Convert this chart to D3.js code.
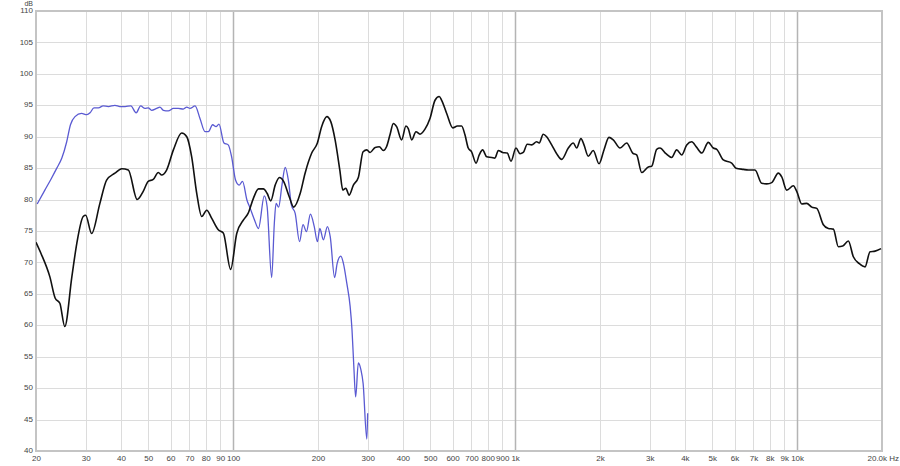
<!DOCTYPE html>
<html>
<head>
<meta charset="utf-8">
<script src="https://cdn.jsdelivr.net/npm/d3@7"></script>
<style>
  body { margin: 0; background: #fff; }
  svg { display: block; }
  .tick text { font-family: Arial, "Liberation Sans", sans-serif; font-size: 8px; fill: #444; }
</style>
</head>
<body>
<svg id="chart" width="900" height="466"></svg>
<script>
// frequency ticks and dB ticks
var xTicks = [20, 30, 40, 50, 60, 70, 80, 90, 100, 200, 300, 400, 500, 600, 700, 800, 900,
  1000, 2000, 3000, 4000, 5000, 6000, 7000, 8000, 9000, 10000, 20000];
var xTickLabels = ['20', '30', '40', '50', '60', '70', '80', '90', '100', '200', '300', '400', '500',
  '600', '700', '800', '900', '1k', '2k', '3k', '4k', '5k', '6k', '7k', '8k', '9k', '10k', '20.0k Hz'];
var majorFreqs = [100, 1000, 10000];
var yTicks = [40, 45, 50, 55, 60, 65, 70, 75, 80, 85, 90, 95, 100, 105, 110];

// black curve (full range)
var blackFreq = [20, 20.8, 22.4, 23.4, 24.3, 25.3, 26.8, 27.9, 29.4, 30, 31.5, 33.7, 35.6, 38.1, 40.3,
  42.5, 45.7, 48, 50, 52.1, 54.3, 55.8, 58.1, 61.4, 65.7, 68.5, 71.3, 74.3, 77.4, 80.6, 84, 88.6, 92.3,
  98, 103, 109, 113, 118, 123, 128, 132, 136, 141, 146, 151, 158, 164, 173, 180, 190, 199, 206, 215,
  222, 230, 239, 245, 251, 258, 267, 278, 289, 298, 306, 319, 330, 341, 350, 360, 370, 380, 396, 410,
  418, 430, 445, 460, 479, 499, 520, 538, 549, 572, 601, 624, 646, 664, 682, 701, 727, 746, 767, 793,
  826, 848, 872, 903, 938, 967, 1007, 1041, 1069, 1104, 1145, 1192, 1218, 1258, 1294, 1348, 1404, 1463,
  1544, 1608, 1653, 1712, 1755, 1817, 1893, 1984, 2066, 2152, 2229, 2355, 2487, 2612, 2698, 2811, 2967,
  3050, 3177, 3264, 3428, 3591, 3741, 3897, 4060, 4229, 4405, 4589, 4843, 5045, 5187, 5475, 5862, 6072,
  6445, 6714, 7091, 7490, 7802, 8128, 8578, 8820, 9188, 9697, 9970, 10386, 10818, 11270, 11740, 12390,
  12906, 13443, 14003, 14515, 15194, 15828, 16622, 17414, 18139, 18895, 19842];
var blackDb = [73.2, 71.5, 67.7, 64.3, 63.5, 59.8, 67.7, 73.0, 77.3, 77.5, 74.6, 79.4, 83.1, 84.2, 84.9,
  84.7, 80.0, 81.3, 82.9, 83.2, 84.3, 83.9, 84.7, 87.9, 90.6, 90.0, 86.8, 81.0, 77.3, 78.3, 77.0, 75.2, 74.7,
  68.9, 74.6, 76.8, 77.8, 80.2, 81.7, 81.7, 81.0, 79.8, 82.3, 83.5, 82.9, 80.5, 78.8, 81.0, 84.2, 87.4, 89.0,
  91.6, 93.2, 92.4, 89.5, 84.7, 81.5, 81.8, 80.7, 82.3, 83.5, 87.6, 87.9, 87.5, 88.3, 88.4, 87.8, 88.4, 90.3,
  92.1, 91.6, 89.5, 91.7, 91.3, 89.5, 90.8, 90.4, 91.2, 92.9, 95.8, 96.4, 95.8, 93.7, 91.4, 91.7, 91.7, 90.3,
  88.2, 87.6, 85.8, 87.1, 87.9, 86.8, 86.7, 86.6, 87.8, 87.5, 87.4, 86.1, 88.2, 87.3, 87.5, 88.8, 88.7, 89.2,
  89.0, 90.4, 90.0, 88.7, 87.3, 86.4, 88.2, 89.0, 88.2, 89.7, 88.7, 86.9, 87.8, 85.7, 87.9, 89.9, 89.5, 88.2,
  89.0, 87.4, 87.1, 84.3, 85.2, 85.3, 88.0, 88.2, 87.3, 86.7, 87.9, 87.1, 88.7, 89.2, 88.3, 87.4, 89.1, 88.2,
  88.0, 86.3, 85.8, 85.0, 84.8, 84.7, 84.7, 82.6, 82.5, 82.7, 84.2, 83.6, 81.5, 82.2, 81.3, 79.3, 79.4, 78.8,
  78.6, 76.0, 75.4, 75.3, 72.5, 72.6, 73.4, 70.9, 69.8, 69.3, 71.7, 71.8, 72.2];

// blue curve (low range)
var blueFreq = [20.2, 21.5, 22.7, 23.7, 24.7, 25.7, 26.5, 27.5, 29, 30.3, 31.1, 32.1, 33.3, 34.6, 36.1,
  38.1, 39.7, 41.4, 43.4, 45.3, 47, 48.7, 50, 51.4, 53.6, 55, 56.6, 58.9, 61.4, 63.9, 66.6, 68.5, 70.3,
  73.3, 76.3, 79.5, 81.7, 84.6, 87, 89.1, 92.8, 96.1, 98.8, 102, 105, 108, 112, 115, 119, 123, 129, 132,
  137, 140, 142, 145, 149, 153, 157, 161, 166, 172, 177, 182, 188, 194, 199, 203, 209, 216, 221, 229,
  234, 241, 246, 253, 260, 264, 268, 272, 278, 284, 289, 298, 300];
var blueDb = [79.3, 81.5, 83.4, 85.0, 86.6, 89.2, 91.9, 93.2, 93.7, 93.5, 93.8, 94.6, 94.6, 94.9, 94.8,
  95.0, 94.8, 94.8, 94.9, 93.8, 94.9, 94.5, 94.6, 94.2, 94.5, 94.7, 94.2, 94.1, 94.5, 94.5, 94.4, 94.7, 94.5,
  94.9, 92.9, 90.8, 90.8, 91.9, 91.6, 92.0, 89.0, 88.7, 86.8, 83.1, 82.3, 82.9, 79.9, 78.6, 76.8, 75.4,
  80.6, 78.9, 67.6, 76.2, 79.4, 78.8, 82.3, 85.1, 83.1, 79.1, 77.8, 73.3, 76.0, 74.9, 77.7, 75.7, 73.3,
  75.4, 73.6, 75.7, 74.1, 67.6, 69.9, 71.0, 69.9, 66.7, 63.0, 59.3, 53.4, 48.6, 54.0, 52.9, 50.8, 41.9, 46.0];

var svg = d3.select('#chart'),
  margin = { top: 11, right: 18, bottom: 15, left: 36 },
  width = 900 - margin.left - margin.right,
  height = 466 - margin.top - margin.bottom;

var x = d3.scaleLog().domain([20, 20000]).range([0, width]);
var y = d3.scaleLinear().domain([40, 110]).range([height, 0]);

var g = svg.append('g').attr('transform', 'translate(' + margin.left + ',' + margin.top + ')');

// horizontal grid
g.append('g')
  .selectAll('line')
  .data(yTicks)
  .enter()
  .append('line')
  .attr('x1', 0)
  .attr('x2', width)
  .attr('y1', function(d) { return Math.round(y(d)) + 0.5; })
  .attr('y2', function(d) { return Math.round(y(d)) + 0.5; })
  .style('stroke', '#dcdcdc')
  .style('stroke-width', 1);

// vertical grid
g.append('g')
  .selectAll('line')
  .data(xTicks)
  .enter()
  .append('line')
  .attr('x1', function(d) { return Math.round(x(d)) + 0.5; })
  .attr('x2', function(d) { return Math.round(x(d)) + 0.5; })
  .attr('y1', 0)
  .attr('y2', height)
  .style('stroke', function(d) { return majorFreqs.indexOf(d) >= 0 ? '#b4b4b4' : '#dcdcdc'; })
  .style('stroke-width', function(d) { return majorFreqs.indexOf(d) >= 0 ? 1.5 : 1; });

// frame
g.append('rect')
  .attr('x', 0)
  .attr('y', 0)
  .attr('width', width)
  .attr('height', height)
  .style('fill', 'none')
  .style('stroke', '#c4c4c4')
  .style('stroke-width', 2);

// y axis labels
var yAxis = g.append('g').call(
  d3.axisLeft(y).tickValues(yTicks).tickSize(0).tickPadding(3)
);
yAxis.select('.domain').remove();
yAxis.selectAll('.tick text').attr('dy', '0.2em');

g.append('text')
  .attr('x', -3)
  .attr('y', -5.5)
  .attr('text-anchor', 'end')
  .style('font-family', 'Arial, "Liberation Sans", sans-serif')
  .style('font-size', '7px')
  .style('fill', '#444')
  .text('dB');

// x axis labels
var xAxis = g.append('g')
  .attr('transform', 'translate(0,' + height + ')')
  .call(
    d3.axisBottom(x)
      .tickValues(xTicks)
      .tickSize(0)
      .tickPadding(4)
      .tickFormat(function(d, i) { return xTickLabels[i]; })
  );
xAxis.select('.domain').remove();
xAxis.selectAll('.tick text')
  .filter(function(d) { return d === 20000; })
  .attr('text-anchor', 'start')
  .attr('dx', '-15px');

var line = d3.line()
  .x(function(d) { return x(d[0]); })
  .y(function(d) { return y(d[1]); })
  .curve(d3.curveMonotoneX);

var clip = svg.append('clipPath').attr('id', 'plotclip');
clip.append('rect').attr('x', 0).attr('y', 0).attr('width', width).attr('height', height);

g.append('path')
  .datum(d3.zip(blueFreq, blueDb))
  .attr('clip-path', 'url(#plotclip)')
  .attr('d', line)
  .style('fill', 'none')
  .style('stroke', '#5a5ad2')
  .style('stroke-width', 1.3);

g.append('path')
  .datum(d3.zip(blackFreq, blackDb))
  .attr('clip-path', 'url(#plotclip)')
  .attr('d', line)
  .style('fill', 'none')
  .style('stroke', '#111')
  .style('stroke-width', 1.6);
</script>
</body>
</html>
